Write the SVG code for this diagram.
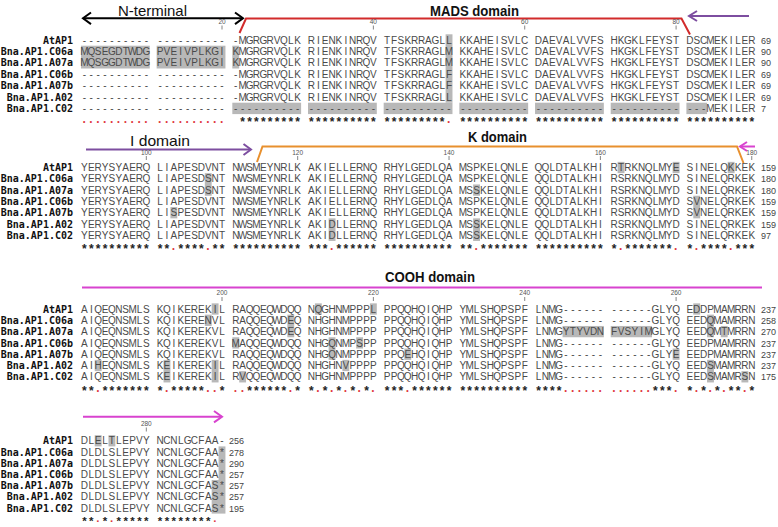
<svg xmlns="http://www.w3.org/2000/svg" width="778" height="527" viewBox="0 0 778 527">
<style>
.s{font-family:"Liberation Sans",Arial,sans-serif;font-size:10px;fill:#4a4a4a;text-anchor:middle}
.n{font-family:"DejaVu Sans Mono",monospace;font-weight:bold;font-size:10px;fill:#111;text-anchor:end}
.c{font-family:"Liberation Sans",Arial,sans-serif;font-weight:bold;font-size:12px;fill:#222;text-anchor:middle}
.d{fill:#e0393e}
.num{font-family:"Liberation Sans",Arial,sans-serif;font-size:9px;fill:#444}
.tk{font-family:"Liberation Sans",Arial,sans-serif;font-size:6.5px;fill:#555;text-anchor:middle}
.tl{stroke:#666;stroke-width:0.8}
.hl{fill:#b8b8b8}
.t{font-family:"Liberation Sans",Arial,sans-serif;font-size:14.5px;fill:#111}
.tb{font-weight:bold}
.ln{fill:none;stroke-width:2;stroke-linejoin:miter}
.blk{stroke:#000}
.red{stroke:#d22b2b}
.pur{stroke:#7d4ea0}
.org{stroke:#e8902e}
.mag{stroke:#d843cf}
</style>

<g id="annotations">
  <text class="t" x="118" y="15.5" textLength="69" lengthAdjust="spacingAndGlyphs">N-terminal</text>
  <line class="ln blk" x1="83" y1="18.3" x2="243" y2="18.3"/>
  <polyline class="ln blk" points="91,12.5 83,18.3 91,24.1"/>
  <polyline class="ln blk" points="235,12.5 243,18.3 235,24.1"/>
  <text class="t tb" x="430" y="16" textLength="89" lengthAdjust="spacingAndGlyphs">MADS domain</text>
  <polyline class="ln red" points="239.5,33 246,18.5 681.5,18.5 690,34.5"/>
  <line class="ln pur" x1="689" y1="16" x2="749" y2="16"/>
  <polyline class="ln pur" points="697,11 689,16 697,21"/>

  <text class="t" x="130" y="145.7" textLength="60" lengthAdjust="spacingAndGlyphs">I domain</text>
  <line class="ln pur" x1="86" y1="149.5" x2="251" y2="149.5"/>
  <polyline class="ln pur" points="243.5,144 251,149.5 243.5,155"/>
  <text class="t tb" x="468" y="141.5" textLength="59" lengthAdjust="spacingAndGlyphs">K domain</text>
  <polyline class="ln org" points="257,162 262.5,146.5 737,146.5 743.5,163"/>
  <line class="ln mag" x1="740" y1="146.5" x2="755" y2="146.5"/>
  <polyline class="ln mag" points="747,142 740,146.5 747,151"/>

  <text class="t tb" x="385" y="282" textLength="90" lengthAdjust="spacingAndGlyphs">COOH domain</text>
  <line class="ln mag" x1="82" y1="287.5" x2="762" y2="287.5"/>

  <line class="ln mag" x1="83" y1="416.7" x2="222" y2="416.7"/>
  <polyline class="ln mag" points="214,411 222,416.7 214,422.4"/>
</g>

<g id="block1">
  <g id="b1-shading">
    <rect class="hl" x="80.96" y="45.7" width="68.8" height="22.8"/>
    <rect class="hl" x="156.64" y="45.7" width="68.8" height="22.8"/>
    <rect class="hl" x="232.32" y="45.7" width="6.88" height="22.8"/>
    <rect class="hl" x="445.6" y="34.3" width="6.88" height="68.4"/>
    <rect class="hl" x="232.32" y="102.7" width="68.8" height="11.4"/>
    <rect class="hl" x="308" y="102.7" width="68.8" height="11.4"/>
    <rect class="hl" x="383.68" y="102.7" width="68.8" height="11.4"/>
    <rect class="hl" x="459.36" y="102.7" width="68.8" height="11.4"/>
    <rect class="hl" x="535.04" y="102.7" width="68.8" height="11.4"/>
    <rect class="hl" x="610.72" y="102.7" width="68.8" height="11.4"/>
    <rect class="hl" x="686.4" y="102.7" width="20.64" height="11.4"/>
  </g>
  <g id="b1-ticks">
    <text class="tk" x="222" y="23.5">20</text><line class="tl" x1="222" y1="25.5" x2="222" y2="29.5"/>
    <text class="tk" x="373.36" y="23.5">40</text><line class="tl" x1="373.36" y1="25.5" x2="373.36" y2="29.5"/>
    <text class="tk" x="524.72" y="23.5">60</text><line class="tl" x1="524.72" y1="25.5" x2="524.72" y2="29.5"/>
    <text class="tk" x="676.08" y="23.5">80</text><line class="tl" x1="676.08" y1="25.5" x2="676.08" y2="29.5"/>
  </g>
  <g id="b1-names">
    <text class="n" x="73" y="43.6">AtAP1</text>
    <text class="n" x="73" y="55">Bna.AP1.C06a</text>
    <text class="n" x="73" y="66.4">Bna.AP1.A07a</text>
    <text class="n" x="73" y="77.8">Bna.AP1.C06b</text>
    <text class="n" x="73" y="89.2">Bna.AP1.A07b</text>
    <text class="n" x="73" y="100.6">Bna.AP1.A02</text>
    <text class="n" x="73" y="112">Bna.AP1.C02</text>
  </g>
  <g id="b1-seq">
    <text class="s" y="43.6" x="84.4 91.28 98.16 105.04 111.92 118.8 125.68 132.56 139.44 146.32 153.2 160.08 166.96 173.84 180.72 187.6 194.48 201.36 208.24 215.12 222 228.88 235.76 242.64 249.52 256.4 263.28 270.16 277.04 283.92 290.8 297.68 304.56 311.44 318.32 325.2 332.08 338.96 345.84 352.72 359.6 366.48 373.36 380.24 387.12 394 400.88 407.76 414.64 421.52 428.4 435.28 442.16 449.04 455.92 462.8 469.68 476.56 483.44 490.32 497.2 504.08 510.96 517.84 524.72 531.6 538.48 545.36 552.24 559.12 566 572.88 579.76 586.64 593.52 600.4 607.28 614.16 621.04 627.92 634.8 641.68 648.56 655.44 662.32 669.2 676.08 682.96 689.84 696.72 703.6 710.48 717.36 724.24 731.12 738 744.88 751.76">---------- ---------- -MGRGRVQLK RIENKINRQV TFSKRRAGLL KKAHEISVLC DAEVALVVFS HKGKLFEYST DSCMEKILER</text>
    <text class="s" y="55" x="84.4 91.28 98.16 105.04 111.92 118.8 125.68 132.56 139.44 146.32 153.2 160.08 166.96 173.84 180.72 187.6 194.48 201.36 208.24 215.12 222 228.88 235.76 242.64 249.52 256.4 263.28 270.16 277.04 283.92 290.8 297.68 304.56 311.44 318.32 325.2 332.08 338.96 345.84 352.72 359.6 366.48 373.36 380.24 387.12 394 400.88 407.76 414.64 421.52 428.4 435.28 442.16 449.04 455.92 462.8 469.68 476.56 483.44 490.32 497.2 504.08 510.96 517.84 524.72 531.6 538.48 545.36 552.24 559.12 566 572.88 579.76 586.64 593.52 600.4 607.28 614.16 621.04 627.92 634.8 641.68 648.56 655.44 662.32 669.2 676.08 682.96 689.84 696.72 703.6 710.48 717.36 724.24 731.12 738 744.88 751.76">MQSEGDTWDG PVEIVPLKGI KMGRGRVQLK RIENKINRQV TFSKRRAGLM KKAHEISVLC DAEVALVVFS HKGKLFEYST DSCMEKILER</text>
    <text class="s" y="66.4" x="84.4 91.28 98.16 105.04 111.92 118.8 125.68 132.56 139.44 146.32 153.2 160.08 166.96 173.84 180.72 187.6 194.48 201.36 208.24 215.12 222 228.88 235.76 242.64 249.52 256.4 263.28 270.16 277.04 283.92 290.8 297.68 304.56 311.44 318.32 325.2 332.08 338.96 345.84 352.72 359.6 366.48 373.36 380.24 387.12 394 400.88 407.76 414.64 421.52 428.4 435.28 442.16 449.04 455.92 462.8 469.68 476.56 483.44 490.32 497.2 504.08 510.96 517.84 524.72 531.6 538.48 545.36 552.24 559.12 566 572.88 579.76 586.64 593.52 600.4 607.28 614.16 621.04 627.92 634.8 641.68 648.56 655.44 662.32 669.2 676.08 682.96 689.84 696.72 703.6 710.48 717.36 724.24 731.12 738 744.88 751.76">MQSGGDTWDG PVEIVPLKGI KMGRGRVQLK RIENKINRQV TFSKRRAGLM KKAHEISVLC DAEVALVVFS HKGKLFEYST DSCMEKILER</text>
    <text class="s" y="77.8" x="84.4 91.28 98.16 105.04 111.92 118.8 125.68 132.56 139.44 146.32 153.2 160.08 166.96 173.84 180.72 187.6 194.48 201.36 208.24 215.12 222 228.88 235.76 242.64 249.52 256.4 263.28 270.16 277.04 283.92 290.8 297.68 304.56 311.44 318.32 325.2 332.08 338.96 345.84 352.72 359.6 366.48 373.36 380.24 387.12 394 400.88 407.76 414.64 421.52 428.4 435.28 442.16 449.04 455.92 462.8 469.68 476.56 483.44 490.32 497.2 504.08 510.96 517.84 524.72 531.6 538.48 545.36 552.24 559.12 566 572.88 579.76 586.64 593.52 600.4 607.28 614.16 621.04 627.92 634.8 641.68 648.56 655.44 662.32 669.2 676.08 682.96 689.84 696.72 703.6 710.48 717.36 724.24 731.12 738 744.88 751.76">---------- ---------- -MGRGRVQLK RIENKINRQV TFSKRRAGLF KKAHEISVLC DAEVALVVFS HKGKLFEYST DSCMEKILER</text>
    <text class="s" y="89.2" x="84.4 91.28 98.16 105.04 111.92 118.8 125.68 132.56 139.44 146.32 153.2 160.08 166.96 173.84 180.72 187.6 194.48 201.36 208.24 215.12 222 228.88 235.76 242.64 249.52 256.4 263.28 270.16 277.04 283.92 290.8 297.68 304.56 311.44 318.32 325.2 332.08 338.96 345.84 352.72 359.6 366.48 373.36 380.24 387.12 394 400.88 407.76 414.64 421.52 428.4 435.28 442.16 449.04 455.92 462.8 469.68 476.56 483.44 490.32 497.2 504.08 510.96 517.84 524.72 531.6 538.48 545.36 552.24 559.12 566 572.88 579.76 586.64 593.52 600.4 607.28 614.16 621.04 627.92 634.8 641.68 648.56 655.44 662.32 669.2 676.08 682.96 689.84 696.72 703.6 710.48 717.36 724.24 731.12 738 744.88 751.76">---------- ---------- -MGRGRVQLK RIENKINRQV TFSKRRAGLF KKAHEISVLC DAEVALVVFS HKGKLFEYST DSCMEKILER</text>
    <text class="s" y="100.6" x="84.4 91.28 98.16 105.04 111.92 118.8 125.68 132.56 139.44 146.32 153.2 160.08 166.96 173.84 180.72 187.6 194.48 201.36 208.24 215.12 222 228.88 235.76 242.64 249.52 256.4 263.28 270.16 277.04 283.92 290.8 297.68 304.56 311.44 318.32 325.2 332.08 338.96 345.84 352.72 359.6 366.48 373.36 380.24 387.12 394 400.88 407.76 414.64 421.52 428.4 435.28 442.16 449.04 455.92 462.8 469.68 476.56 483.44 490.32 497.2 504.08 510.96 517.84 524.72 531.6 538.48 545.36 552.24 559.12 566 572.88 579.76 586.64 593.52 600.4 607.28 614.16 621.04 627.92 634.8 641.68 648.56 655.44 662.32 669.2 676.08 682.96 689.84 696.72 703.6 710.48 717.36 724.24 731.12 738 744.88 751.76">---------- ---------- -MGRGRVQLK RIENKINRQV TFSKRRAGLL KKAHEISVLC DAEVALVVFS HKGKLFEYST DSCMEKILER</text>
    <text class="s" y="112" x="84.4 91.28 98.16 105.04 111.92 118.8 125.68 132.56 139.44 146.32 153.2 160.08 166.96 173.84 180.72 187.6 194.48 201.36 208.24 215.12 222 228.88 235.76 242.64 249.52 256.4 263.28 270.16 277.04 283.92 290.8 297.68 304.56 311.44 318.32 325.2 332.08 338.96 345.84 352.72 359.6 366.48 373.36 380.24 387.12 394 400.88 407.76 414.64 421.52 428.4 435.28 442.16 449.04 455.92 462.8 469.68 476.56 483.44 490.32 497.2 504.08 510.96 517.84 524.72 531.6 538.48 545.36 552.24 559.12 566 572.88 579.76 586.64 593.52 600.4 607.28 614.16 621.04 627.92 634.8 641.68 648.56 655.44 662.32 669.2 676.08 682.96 689.84 696.72 703.6 710.48 717.36 724.24 731.12 738 744.88 751.76">---------- ---------- ---------- ---------- ---------- ---------- ---------- ---------- ---MEKILER</text>
    <text class="c" xml:space="preserve" y="126.4" x="84.4 91.28 98.16 105.04 111.92 118.8 125.68 132.56 139.44 146.32 153.2 160.08 166.96 173.84 180.72 187.6 194.48 201.36 208.24 215.12 222 228.88 235.76 242.64 249.52 256.4 263.28 270.16 277.04 283.92 290.8 297.68 304.56 311.44 318.32 325.2 332.08 338.96 345.84 352.72 359.6 366.48 373.36 380.24 387.12 394 400.88 407.76 414.64 421.52 428.4 435.28 442.16 449.04 455.92 462.8 469.68 476.56 483.44 490.32 497.2 504.08 510.96 517.84 524.72 531.6 538.48 545.36 552.24 559.12 566 572.88 579.76 586.64 593.52 600.4 607.28 614.16 621.04 627.92 634.8 641.68 648.56 655.44 662.32 669.2 676.08 682.96 689.84 696.72 703.6 710.48 717.36 724.24 731.12 738 744.88 751.76"><tspan class="d">·········· ··········</tspan>  ********* ********** *********<tspan class="d">·</tspan> ********** ********** ********** **********</text>
  </g>
  <g id="b1-len">
    <text class="num" x="761" y="43.6">69</text>
    <text class="num" x="761" y="55">90</text>
    <text class="num" x="761" y="66.4">90</text>
    <text class="num" x="761" y="77.8">69</text>
    <text class="num" x="761" y="89.2">69</text>
    <text class="num" x="761" y="100.6">69</text>
    <text class="num" x="761" y="112">7</text>
  </g>
</g>

<g id="block2">
  <g id="b2-shading">
    <rect class="hl" x="617.6" y="161.85" width="6.88" height="11.3"/>
    <rect class="hl" x="672.64" y="161.85" width="6.88" height="11.3"/>
    <rect class="hl" x="727.68" y="161.85" width="6.88" height="11.3"/>
    <rect class="hl" x="204.8" y="173.15" width="6.88" height="22.6"/>
    <rect class="hl" x="473.12" y="184.45" width="6.88" height="11.3"/>
    <rect class="hl" x="693.28" y="195.75" width="6.88" height="22.6"/>
    <rect class="hl" x="170.4" y="207.05" width="6.88" height="11.3"/>
    <rect class="hl" x="328.64" y="218.35" width="6.88" height="22.6"/>
    <rect class="hl" x="473.12" y="218.35" width="6.88" height="22.6"/>
  </g>
  <g id="b2-ticks">
    <text class="tk" x="146.32" y="154.5">100</text><line class="tl" x1="146.32" y1="156" x2="146.32" y2="160"/>
    <text class="tk" x="297.68" y="154.5">120</text><line class="tl" x1="297.68" y1="156" x2="297.68" y2="160"/>
    <text class="tk" x="449.04" y="154.5">140</text><line class="tl" x1="449.04" y1="156" x2="449.04" y2="160"/>
    <text class="tk" x="600.4" y="154.5">160</text><line class="tl" x1="600.4" y1="156" x2="600.4" y2="160"/>
    <text class="tk" x="751.76" y="154.5">180</text><line class="tl" x1="751.76" y1="156" x2="751.76" y2="160"/>
  </g>
  <g id="b2-names">
    <text class="n" x="73" y="171.1">AtAP1</text>
    <text class="n" x="73" y="182.4">Bna.AP1.C06a</text>
    <text class="n" x="73" y="193.7">Bna.AP1.A07a</text>
    <text class="n" x="73" y="205">Bna.AP1.C06b</text>
    <text class="n" x="73" y="216.3">Bna.AP1.A07b</text>
    <text class="n" x="73" y="227.6">Bna.AP1.A02</text>
    <text class="n" x="73" y="238.9">Bna.AP1.C02</text>
  </g>
  <g id="b2-seq">
    <text class="s" y="171.1" x="84.4 91.28 98.16 105.04 111.92 118.8 125.68 132.56 139.44 146.32 153.2 160.08 166.96 173.84 180.72 187.6 194.48 201.36 208.24 215.12 222 228.88 235.76 242.64 249.52 256.4 263.28 270.16 277.04 283.92 290.8 297.68 304.56 311.44 318.32 325.2 332.08 338.96 345.84 352.72 359.6 366.48 373.36 380.24 387.12 394 400.88 407.76 414.64 421.52 428.4 435.28 442.16 449.04 455.92 462.8 469.68 476.56 483.44 490.32 497.2 504.08 510.96 517.84 524.72 531.6 538.48 545.36 552.24 559.12 566 572.88 579.76 586.64 593.52 600.4 607.28 614.16 621.04 627.92 634.8 641.68 648.56 655.44 662.32 669.2 676.08 682.96 689.84 696.72 703.6 710.48 717.36 724.24 731.12 738 744.88 751.76">YERYSYAERQ LIAPESDVNT NWSMEYNRLK AKIELLERNQ RHYLGEDLQA MSPKELQNLE QQLDTALKHI RTRKNQLMYE SINELQKKEK</text>
    <text class="s" y="182.4" x="84.4 91.28 98.16 105.04 111.92 118.8 125.68 132.56 139.44 146.32 153.2 160.08 166.96 173.84 180.72 187.6 194.48 201.36 208.24 215.12 222 228.88 235.76 242.64 249.52 256.4 263.28 270.16 277.04 283.92 290.8 297.68 304.56 311.44 318.32 325.2 332.08 338.96 345.84 352.72 359.6 366.48 373.36 380.24 387.12 394 400.88 407.76 414.64 421.52 428.4 435.28 442.16 449.04 455.92 462.8 469.68 476.56 483.44 490.32 497.2 504.08 510.96 517.84 524.72 531.6 538.48 545.36 552.24 559.12 566 572.88 579.76 586.64 593.52 600.4 607.28 614.16 621.04 627.92 634.8 641.68 648.56 655.44 662.32 669.2 676.08 682.96 689.84 696.72 703.6 710.48 717.36 724.24 731.12 738 744.88 751.76">YERYSYAERQ LIAPESDSNT NWSMEYNRLK AKIELLERNQ RHYLGEDLQA MSPKELQNLE QQLDTALKHI RSRKNQLMYD SINELQRKEK</text>
    <text class="s" y="193.7" x="84.4 91.28 98.16 105.04 111.92 118.8 125.68 132.56 139.44 146.32 153.2 160.08 166.96 173.84 180.72 187.6 194.48 201.36 208.24 215.12 222 228.88 235.76 242.64 249.52 256.4 263.28 270.16 277.04 283.92 290.8 297.68 304.56 311.44 318.32 325.2 332.08 338.96 345.84 352.72 359.6 366.48 373.36 380.24 387.12 394 400.88 407.76 414.64 421.52 428.4 435.28 442.16 449.04 455.92 462.8 469.68 476.56 483.44 490.32 497.2 504.08 510.96 517.84 524.72 531.6 538.48 545.36 552.24 559.12 566 572.88 579.76 586.64 593.52 600.4 607.28 614.16 621.04 627.92 634.8 641.68 648.56 655.44 662.32 669.2 676.08 682.96 689.84 696.72 703.6 710.48 717.36 724.24 731.12 738 744.88 751.76">YERYSYAERQ LIAPESDSNT NWSMEYNRLK AKIELLERNQ RHYLGEDLQA MSSKELQNLE QQLDTALKHI RSRKNQLMYD SINELQRKEK</text>
    <text class="s" y="205" x="84.4 91.28 98.16 105.04 111.92 118.8 125.68 132.56 139.44 146.32 153.2 160.08 166.96 173.84 180.72 187.6 194.48 201.36 208.24 215.12 222 228.88 235.76 242.64 249.52 256.4 263.28 270.16 277.04 283.92 290.8 297.68 304.56 311.44 318.32 325.2 332.08 338.96 345.84 352.72 359.6 366.48 373.36 380.24 387.12 394 400.88 407.76 414.64 421.52 428.4 435.28 442.16 449.04 455.92 462.8 469.68 476.56 483.44 490.32 497.2 504.08 510.96 517.84 524.72 531.6 538.48 545.36 552.24 559.12 566 572.88 579.76 586.64 593.52 600.4 607.28 614.16 621.04 627.92 634.8 641.68 648.56 655.44 662.32 669.2 676.08 682.96 689.84 696.72 703.6 710.48 717.36 724.24 731.12 738 744.88 751.76">YERYSYAERQ LIAPESDVNT NWSMEYNRLK AKIELLERNQ RHYLGEDLQA MSPKELQNLE QQLDTALKHI RSRKNQLMYD SVNELQRKEK</text>
    <text class="s" y="216.3" x="84.4 91.28 98.16 105.04 111.92 118.8 125.68 132.56 139.44 146.32 153.2 160.08 166.96 173.84 180.72 187.6 194.48 201.36 208.24 215.12 222 228.88 235.76 242.64 249.52 256.4 263.28 270.16 277.04 283.92 290.8 297.68 304.56 311.44 318.32 325.2 332.08 338.96 345.84 352.72 359.6 366.48 373.36 380.24 387.12 394 400.88 407.76 414.64 421.52 428.4 435.28 442.16 449.04 455.92 462.8 469.68 476.56 483.44 490.32 497.2 504.08 510.96 517.84 524.72 531.6 538.48 545.36 552.24 559.12 566 572.88 579.76 586.64 593.52 600.4 607.28 614.16 621.04 627.92 634.8 641.68 648.56 655.44 662.32 669.2 676.08 682.96 689.84 696.72 703.6 710.48 717.36 724.24 731.12 738 744.88 751.76">YERYSYAERQ LISPESDVNT NWSMEYNRLK AKIELLERNQ RHYLGEDLQA MSPKELQNLE QQLDTALKHI RSRKNQLMYD SVNELQRKEK</text>
    <text class="s" y="227.6" x="84.4 91.28 98.16 105.04 111.92 118.8 125.68 132.56 139.44 146.32 153.2 160.08 166.96 173.84 180.72 187.6 194.48 201.36 208.24 215.12 222 228.88 235.76 242.64 249.52 256.4 263.28 270.16 277.04 283.92 290.8 297.68 304.56 311.44 318.32 325.2 332.08 338.96 345.84 352.72 359.6 366.48 373.36 380.24 387.12 394 400.88 407.76 414.64 421.52 428.4 435.28 442.16 449.04 455.92 462.8 469.68 476.56 483.44 490.32 497.2 504.08 510.96 517.84 524.72 531.6 538.48 545.36 552.24 559.12 566 572.88 579.76 586.64 593.52 600.4 607.28 614.16 621.04 627.92 634.8 641.68 648.56 655.44 662.32 669.2 676.08 682.96 689.84 696.72 703.6 710.48 717.36 724.24 731.12 738 744.88 751.76">YERYSYAERQ LIAPESDVNT NWSMEYNRLK AKIDLLERNQ RHYLGEDLQA MSSKELQNLE QQLDTALKHI RSRKNQLMYD SINELQRKEK</text>
    <text class="s" y="238.9" x="84.4 91.28 98.16 105.04 111.92 118.8 125.68 132.56 139.44 146.32 153.2 160.08 166.96 173.84 180.72 187.6 194.48 201.36 208.24 215.12 222 228.88 235.76 242.64 249.52 256.4 263.28 270.16 277.04 283.92 290.8 297.68 304.56 311.44 318.32 325.2 332.08 338.96 345.84 352.72 359.6 366.48 373.36 380.24 387.12 394 400.88 407.76 414.64 421.52 428.4 435.28 442.16 449.04 455.92 462.8 469.68 476.56 483.44 490.32 497.2 504.08 510.96 517.84 524.72 531.6 538.48 545.36 552.24 559.12 566 572.88 579.76 586.64 593.52 600.4 607.28 614.16 621.04 627.92 634.8 641.68 648.56 655.44 662.32 669.2 676.08 682.96 689.84 696.72 703.6 710.48 717.36 724.24 731.12 738 744.88 751.76">YERYSYAERQ LIAPESDVNT NWSMEYNRLK AKIDLLERNQ RHYLGEDLQA MSSKELQNLE QQLDTALKHI RSRKNQLMYD SINELQRKEK</text>
    <text class="c" xml:space="preserve" y="253.2" x="84.4 91.28 98.16 105.04 111.92 118.8 125.68 132.56 139.44 146.32 153.2 160.08 166.96 173.84 180.72 187.6 194.48 201.36 208.24 215.12 222 228.88 235.76 242.64 249.52 256.4 263.28 270.16 277.04 283.92 290.8 297.68 304.56 311.44 318.32 325.2 332.08 338.96 345.84 352.72 359.6 366.48 373.36 380.24 387.12 394 400.88 407.76 414.64 421.52 428.4 435.28 442.16 449.04 455.92 462.8 469.68 476.56 483.44 490.32 497.2 504.08 510.96 517.84 524.72 531.6 538.48 545.36 552.24 559.12 566 572.88 579.76 586.64 593.52 600.4 607.28 614.16 621.04 627.92 634.8 641.68 648.56 655.44 662.32 669.2 676.08 682.96 689.84 696.72 703.6 710.48 717.36 724.24 731.12 738 744.88 751.76">********** **<tspan class="d">·</tspan>****<tspan class="d">·</tspan>** ********** ***<tspan class="d">·</tspan>****** ********** **<tspan class="d">·</tspan>******* ********** *<tspan class="d">·</tspan>*******<tspan class="d">·</tspan> *<tspan class="d">·</tspan>****<tspan class="d">·</tspan>***</text>
  </g>
  <g id="b2-len">
    <text class="num" x="761" y="171.1">159</text>
    <text class="num" x="761" y="182.4">180</text>
    <text class="num" x="761" y="193.7">180</text>
    <text class="num" x="761" y="205">159</text>
    <text class="num" x="761" y="216.3">159</text>
    <text class="num" x="761" y="227.6">159</text>
    <text class="num" x="761" y="238.9">97</text>
  </g>
</g>

<g id="block3">
  <g id="b3-shading">
    <rect class="hl" x="211.68" y="303.35" width="6.88" height="11.3"/>
    <rect class="hl" x="314.88" y="303.35" width="6.88" height="11.3"/>
    <rect class="hl" x="369.92" y="303.35" width="6.88" height="11.3"/>
    <rect class="hl" x="693.28" y="303.35" width="6.88" height="11.3"/>
    <rect class="hl" x="204.8" y="314.65" width="6.88" height="11.3"/>
    <rect class="hl" x="287.36" y="314.65" width="6.88" height="22.6"/>
    <rect class="hl" x="707.04" y="314.65" width="6.88" height="22.6"/>
    <rect class="hl" x="562.56" y="325.95" width="41.28" height="11.3"/>
    <rect class="hl" x="610.72" y="325.95" width="41.28" height="11.3"/>
    <rect class="hl" x="720.8" y="325.95" width="6.88" height="11.3"/>
    <rect class="hl" x="232.32" y="337.25" width="6.88" height="11.3"/>
    <rect class="hl" x="328.64" y="337.25" width="6.88" height="22.6"/>
    <rect class="hl" x="356.16" y="337.25" width="6.88" height="11.3"/>
    <rect class="hl" x="404.32" y="348.55" width="6.88" height="11.3"/>
    <rect class="hl" x="672.64" y="348.55" width="6.88" height="11.3"/>
    <rect class="hl" x="94.72" y="359.85" width="6.88" height="11.3"/>
    <rect class="hl" x="163.52" y="359.85" width="6.88" height="22.6"/>
    <rect class="hl" x="211.68" y="359.85" width="6.88" height="22.6"/>
    <rect class="hl" x="342.4" y="359.85" width="6.88" height="11.3"/>
    <rect class="hl" x="707.04" y="359.85" width="6.88" height="22.6"/>
    <rect class="hl" x="239.2" y="371.15" width="6.88" height="11.3"/>
    <rect class="hl" x="741.44" y="371.15" width="6.88" height="11.3"/>
  </g>
  <g id="b3-ticks">
    <text class="tk" x="222" y="295">200</text><line class="tl" x1="222" y1="297" x2="222" y2="301"/>
    <text class="tk" x="373.36" y="295">220</text><line class="tl" x1="373.36" y1="297" x2="373.36" y2="301"/>
    <text class="tk" x="524.72" y="295">240</text><line class="tl" x1="524.72" y1="297" x2="524.72" y2="301"/>
    <text class="tk" x="676.08" y="295">260</text><line class="tl" x1="676.08" y1="297" x2="676.08" y2="301"/>
  </g>
  <g id="b3-names">
    <text class="n" x="73" y="312.6">AtAP1</text>
    <text class="n" x="73" y="323.9">Bna.AP1.C06a</text>
    <text class="n" x="73" y="335.2">Bna.AP1.A07a</text>
    <text class="n" x="73" y="346.5">Bna.AP1.C06b</text>
    <text class="n" x="73" y="357.8">Bna.AP1.A07b</text>
    <text class="n" x="73" y="369.1">Bna.AP1.A02</text>
    <text class="n" x="73" y="380.4">Bna.AP1.C02</text>
  </g>
  <g id="b3-seq">
    <text class="s" y="312.6" x="84.4 91.28 98.16 105.04 111.92 118.8 125.68 132.56 139.44 146.32 153.2 160.08 166.96 173.84 180.72 187.6 194.48 201.36 208.24 215.12 222 228.88 235.76 242.64 249.52 256.4 263.28 270.16 277.04 283.92 290.8 297.68 304.56 311.44 318.32 325.2 332.08 338.96 345.84 352.72 359.6 366.48 373.36 380.24 387.12 394 400.88 407.76 414.64 421.52 428.4 435.28 442.16 449.04 455.92 462.8 469.68 476.56 483.44 490.32 497.2 504.08 510.96 517.84 524.72 531.6 538.48 545.36 552.24 559.12 566 572.88 579.76 586.64 593.52 600.4 607.28 614.16 621.04 627.92 634.8 641.68 648.56 655.44 662.32 669.2 676.08 682.96 689.84 696.72 703.6 710.48 717.36 724.24 731.12 738 744.88 751.76">AIQEQNSMLS KQIKEREKIL RAQQEQWDQQ NQGHNMPPPL PPQQHQIQHP YMLSHQPSPF LNMG------ ------GLYQ EDDPMAMRRN</text>
    <text class="s" y="323.9" x="84.4 91.28 98.16 105.04 111.92 118.8 125.68 132.56 139.44 146.32 153.2 160.08 166.96 173.84 180.72 187.6 194.48 201.36 208.24 215.12 222 228.88 235.76 242.64 249.52 256.4 263.28 270.16 277.04 283.92 290.8 297.68 304.56 311.44 318.32 325.2 332.08 338.96 345.84 352.72 359.6 366.48 373.36 380.24 387.12 394 400.88 407.76 414.64 421.52 428.4 435.28 442.16 449.04 455.92 462.8 469.68 476.56 483.44 490.32 497.2 504.08 510.96 517.84 524.72 531.6 538.48 545.36 552.24 559.12 566 572.88 579.76 586.64 593.52 600.4 607.28 614.16 621.04 627.92 634.8 641.68 648.56 655.44 662.32 669.2 676.08 682.96 689.84 696.72 703.6 710.48 717.36 724.24 731.12 738 744.88 751.76">AIQEQNSMLS KQIKERENVL RAQQEQWDEQ NHGHNMPPPP PPQQHQIQHP YMLSHQPSPF LNMG------ ------GLYQ EEDQMAMRRN</text>
    <text class="s" y="335.2" x="84.4 91.28 98.16 105.04 111.92 118.8 125.68 132.56 139.44 146.32 153.2 160.08 166.96 173.84 180.72 187.6 194.48 201.36 208.24 215.12 222 228.88 235.76 242.64 249.52 256.4 263.28 270.16 277.04 283.92 290.8 297.68 304.56 311.44 318.32 325.2 332.08 338.96 345.84 352.72 359.6 366.48 373.36 380.24 387.12 394 400.88 407.76 414.64 421.52 428.4 435.28 442.16 449.04 455.92 462.8 469.68 476.56 483.44 490.32 497.2 504.08 510.96 517.84 524.72 531.6 538.48 545.36 552.24 559.12 566 572.88 579.76 586.64 593.52 600.4 607.28 614.16 621.04 627.92 634.8 641.68 648.56 655.44 662.32 669.2 676.08 682.96 689.84 696.72 703.6 710.48 717.36 724.24 731.12 738 744.88 751.76">AIQEQNSMLS KQIKEREKVL RAQQEQWDEQ NHGHNMPPPP PPQQHQIQHP YMLSHQPSPF LNMGYTYVDN FVSYIMGLYQ EEDQMTMRRN</text>
    <text class="s" y="346.5" x="84.4 91.28 98.16 105.04 111.92 118.8 125.68 132.56 139.44 146.32 153.2 160.08 166.96 173.84 180.72 187.6 194.48 201.36 208.24 215.12 222 228.88 235.76 242.64 249.52 256.4 263.28 270.16 277.04 283.92 290.8 297.68 304.56 311.44 318.32 325.2 332.08 338.96 345.84 352.72 359.6 366.48 373.36 380.24 387.12 394 400.88 407.76 414.64 421.52 428.4 435.28 442.16 449.04 455.92 462.8 469.68 476.56 483.44 490.32 497.2 504.08 510.96 517.84 524.72 531.6 538.48 545.36 552.24 559.12 566 572.88 579.76 586.64 593.52 600.4 607.28 614.16 621.04 627.92 634.8 641.68 648.56 655.44 662.32 669.2 676.08 682.96 689.84 696.72 703.6 710.48 717.36 724.24 731.12 738 744.88 751.76">AIQEQNSMLS KQIKEREKVL MAQQEQWDQQ NHGQNMPSPP PPQQHQIQHP YMLSHQPSPF LNMG------ ------GLYQ EEDPMAMRRN</text>
    <text class="s" y="357.8" x="84.4 91.28 98.16 105.04 111.92 118.8 125.68 132.56 139.44 146.32 153.2 160.08 166.96 173.84 180.72 187.6 194.48 201.36 208.24 215.12 222 228.88 235.76 242.64 249.52 256.4 263.28 270.16 277.04 283.92 290.8 297.68 304.56 311.44 318.32 325.2 332.08 338.96 345.84 352.72 359.6 366.48 373.36 380.24 387.12 394 400.88 407.76 414.64 421.52 428.4 435.28 442.16 449.04 455.92 462.8 469.68 476.56 483.44 490.32 497.2 504.08 510.96 517.84 524.72 531.6 538.48 545.36 552.24 559.12 566 572.88 579.76 586.64 593.52 600.4 607.28 614.16 621.04 627.92 634.8 641.68 648.56 655.44 662.32 669.2 676.08 682.96 689.84 696.72 703.6 710.48 717.36 724.24 731.12 738 744.88 751.76">AIQEQNSMLS KQIKEREKVL RAQQEQWDQQ NHGQNMPPPP PPQEHQIQHP YMLSHQPSPF LNMG------ ------GLYE EEDPMAMRRN</text>
    <text class="s" y="369.1" x="84.4 91.28 98.16 105.04 111.92 118.8 125.68 132.56 139.44 146.32 153.2 160.08 166.96 173.84 180.72 187.6 194.48 201.36 208.24 215.12 222 228.88 235.76 242.64 249.52 256.4 263.28 270.16 277.04 283.92 290.8 297.68 304.56 311.44 318.32 325.2 332.08 338.96 345.84 352.72 359.6 366.48 373.36 380.24 387.12 394 400.88 407.76 414.64 421.52 428.4 435.28 442.16 449.04 455.92 462.8 469.68 476.56 483.44 490.32 497.2 504.08 510.96 517.84 524.72 531.6 538.48 545.36 552.24 559.12 566 572.88 579.76 586.64 593.52 600.4 607.28 614.16 621.04 627.92 634.8 641.68 648.56 655.44 662.32 669.2 676.08 682.96 689.84 696.72 703.6 710.48 717.36 724.24 731.12 738 744.88 751.76">AIHEQNSMLS KEIKEREKIL RAQQEQWDQQ NHGHNVPPPP PPQQHQIQHP YMLSHQPSPF LNMG------ ------GLYQ EEDSMAMRRN</text>
    <text class="s" y="380.4" x="84.4 91.28 98.16 105.04 111.92 118.8 125.68 132.56 139.44 146.32 153.2 160.08 166.96 173.84 180.72 187.6 194.48 201.36 208.24 215.12 222 228.88 235.76 242.64 249.52 256.4 263.28 270.16 277.04 283.92 290.8 297.68 304.56 311.44 318.32 325.2 332.08 338.96 345.84 352.72 359.6 366.48 373.36 380.24 387.12 394 400.88 407.76 414.64 421.52 428.4 435.28 442.16 449.04 455.92 462.8 469.68 476.56 483.44 490.32 497.2 504.08 510.96 517.84 524.72 531.6 538.48 545.36 552.24 559.12 566 572.88 579.76 586.64 593.52 600.4 607.28 614.16 621.04 627.92 634.8 641.68 648.56 655.44 662.32 669.2 676.08 682.96 689.84 696.72 703.6 710.48 717.36 724.24 731.12 738 744.88 751.76">AIQEQNSMLS KEIKEREKIL RVQQEQWDQQ NHGHNMPPPP PPQQHQIQHP YMLSHQPSPF LNMG------ ------GLYQ EEDSMAMRSN</text>
    <text class="c" xml:space="preserve" y="394.7" x="84.4 91.28 98.16 105.04 111.92 118.8 125.68 132.56 139.44 146.32 153.2 160.08 166.96 173.84 180.72 187.6 194.48 201.36 208.24 215.12 222 228.88 235.76 242.64 249.52 256.4 263.28 270.16 277.04 283.92 290.8 297.68 304.56 311.44 318.32 325.2 332.08 338.96 345.84 352.72 359.6 366.48 373.36 380.24 387.12 394 400.88 407.76 414.64 421.52 428.4 435.28 442.16 449.04 455.92 462.8 469.68 476.56 483.44 490.32 497.2 504.08 510.96 517.84 524.72 531.6 538.48 545.36 552.24 559.12 566 572.88 579.76 586.64 593.52 600.4 607.28 614.16 621.04 627.92 634.8 641.68 648.56 655.44 662.32 669.2 676.08 682.96 689.84 696.72 703.6 710.48 717.36 724.24 731.12 738 744.88 751.76">**<tspan class="d">·</tspan>******* *<tspan class="d">·</tspan>*****<tspan class="d">··</tspan>* <tspan class="d">··</tspan>******<tspan class="d">·</tspan>* *<tspan class="d">·</tspan>*<tspan class="d">·</tspan>*<tspan class="d">·</tspan>*<tspan class="d">·</tspan>*<tspan class="d">·</tspan> ***<tspan class="d">·</tspan>****** ********** ****<tspan class="d">······ ······</tspan>***<tspan class="d">·</tspan> *<tspan class="d">·</tspan>*<tspan class="d">·</tspan>*<tspan class="d">·</tspan>**<tspan class="d">·</tspan>*</text>
  </g>
  <g id="b3-len">
    <text class="num" x="761" y="312.6">237</text>
    <text class="num" x="761" y="323.9">258</text>
    <text class="num" x="761" y="335.2">270</text>
    <text class="num" x="761" y="346.5">237</text>
    <text class="num" x="761" y="357.8">237</text>
    <text class="num" x="761" y="369.1">237</text>
    <text class="num" x="761" y="380.4">175</text>
  </g>
</g>

<g id="block4">
  <g id="b4-shading">
    <rect class="hl" x="94.72" y="435.2" width="6.88" height="11.2"/>
    <rect class="hl" x="108.48" y="435.2" width="6.88" height="11.2"/>
    <rect class="hl" x="218.56" y="446.4" width="6.88" height="33.6"/>
    <rect class="hl" x="211.68" y="480" width="13.76" height="33.6"/>
  </g>
  <g id="b4-ticks">
    <text class="tk" x="146.32" y="426">280</text><line class="tl" x1="146.32" y1="427.5" x2="146.32" y2="431.5"/>
  </g>
  <g id="b4-names">
    <text class="n" x="73" y="444.4">AtAP1</text>
    <text class="n" x="73" y="455.6">Bna.AP1.C06a</text>
    <text class="n" x="73" y="466.8">Bna.AP1.A07a</text>
    <text class="n" x="73" y="478">Bna.AP1.C06b</text>
    <text class="n" x="73" y="489.2">Bna.AP1.A07b</text>
    <text class="n" x="73" y="500.4">Bna.AP1.A02</text>
    <text class="n" x="73" y="511.6">Bna.AP1.C02</text>
  </g>
  <g id="b4-seq">
    <text class="s" y="444.4" x="84.4 91.28 98.16 105.04 111.92 118.8 125.68 132.56 139.44 146.32 153.2 160.08 166.96 173.84 180.72 187.6 194.48 201.36 208.24 215.12 222">DLELTLEPVY NCNLGCFAA-</text>
    <text class="s" y="455.6" x="84.4 91.28 98.16 105.04 111.92 118.8 125.68 132.56 139.44 146.32 153.2 160.08 166.96 173.84 180.72 187.6 194.48 201.36 208.24 215.12 222">DLDLSLEPVY NCNLGCFAA*</text>
    <text class="s" y="466.8" x="84.4 91.28 98.16 105.04 111.92 118.8 125.68 132.56 139.44 146.32 153.2 160.08 166.96 173.84 180.72 187.6 194.48 201.36 208.24 215.12 222">DLDLSLEPVY NCNLGCFAA*</text>
    <text class="s" y="478" x="84.4 91.28 98.16 105.04 111.92 118.8 125.68 132.56 139.44 146.32 153.2 160.08 166.96 173.84 180.72 187.6 194.48 201.36 208.24 215.12 222">DLDLSLEPVY NCNLGCFAA*</text>
    <text class="s" y="489.2" x="84.4 91.28 98.16 105.04 111.92 118.8 125.68 132.56 139.44 146.32 153.2 160.08 166.96 173.84 180.72 187.6 194.48 201.36 208.24 215.12 222">DLDLSLEPVY NCNLGCFAS*</text>
    <text class="s" y="500.4" x="84.4 91.28 98.16 105.04 111.92 118.8 125.68 132.56 139.44 146.32 153.2 160.08 166.96 173.84 180.72 187.6 194.48 201.36 208.24 215.12 222">DLDLSLEPVY NCNLGCFAS*</text>
    <text class="s" y="511.6" x="84.4 91.28 98.16 105.04 111.92 118.8 125.68 132.56 139.44 146.32 153.2 160.08 166.96 173.84 180.72 187.6 194.48 201.36 208.24 215.12 222">DLDLSLEPVY NCNLGCFAS*</text>
    <text class="c" xml:space="preserve" style="font-size:11.5px" y="524.5" x="84.4 91.28 98.16 105.04 111.92 118.8 125.68 132.56 139.44 146.32 153.2 160.08 166.96 173.84 180.72 187.6 194.48 201.36 208.24 215.12 222">**<tspan class="d">·</tspan>*<tspan class="d">·</tspan>***** ********<tspan class="d">·</tspan></text>
  </g>
  <g id="b4-len">
    <text class="num" x="229" y="444.4">256</text>
    <text class="num" x="229" y="455.6">278</text>
    <text class="num" x="229" y="466.8">290</text>
    <text class="num" x="229" y="478">257</text>
    <text class="num" x="229" y="489.2">257</text>
    <text class="num" x="229" y="500.4">257</text>
    <text class="num" x="229" y="511.6">195</text>
  </g>
</g>
</svg>
